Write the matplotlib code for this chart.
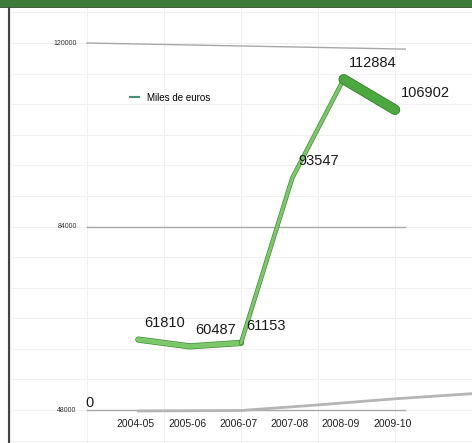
import matplotlib
matplotlib.use("Agg")
import matplotlib.pyplot as plt
import matplotlib.patheffects as pe
from matplotlib.lines import Line2D
from matplotlib.patches import Rectangle
import numpy as np

plt.rcParams["font.family"] = ["Liberation Sans", "DejaVu Sans"]

# data
seasons = ["2004-05", "2005-06", "2006-07", "2007-08", "2008-09", "2009-10"]
miles_euros = [61810, 60487, 61153, 93547, 112884, 106902]
y_ticks = [120000, 84000, 48000]
series_name = "Miles de euros"

W, H = 472, 443
fig = plt.figure(figsize=(W / 100, H / 100), dpi=100)
ax = fig.add_axes([10 / W, 0, 462 / W, 437 / H])
ax.set_xlim(-2.33, 6.42)
ax.set_ylim(41526, 127259)
for s in ax.spines.values():
    s.set_visible(False)
ax.tick_params(length=0, labelbottom=False, labelleft=False)

# faint background grid
ax.set_xticks(np.arange(-2.5, 7, 1.5))
ax.set_yticks(np.arange(42000, 128000, 6000))
ax.grid(True, color="#f0f0f0", lw=0.8)
ax.set_axisbelow(True)

# value axis lines + labels
for v in y_ticks:
    ax.plot([-1.0, 5.2], [v, v - 1200 if v == 120000 else v], color="#a8a8a8", lw=1.0, zorder=2)
    ax.text(-1.2, v, f"{v}", fontsize=5, color="#333333", ha="right", va="center")

# floor curve
ax.plot([0, 2.0, 3.5, 5.0, 6.5], [47800, 47900, 49000, 50200, 51200],
        color="#b5b5b5", lw=2.0, zorder=2)

# category labels
for i, lab in enumerate(seasons):
    ax.text(i - 0.05, 0.043, lab, fontsize=7.5, color="#222222", ha="center", va="center",
            transform=ax.get_xaxis_transform())

x = np.arange(len(seasons))
edge = [pe.Stroke(linewidth=4.5, foreground="#3f8f36"), pe.Normal()]
ax.plot(x[:3], miles_euros[:3], color="#7cc76a", lw=3.5, solid_capstyle="round",
        path_effects=edge, zorder=4)
ax.plot(x[2:5], miles_euros[2:5], color="#7cc76a", lw=2.2, solid_capstyle="round",
        path_effects=[pe.Stroke(linewidth=3.2, foreground="#3f8f36"), pe.Normal()], zorder=4)
ax.plot(x[4:], miles_euros[4:], color="#4aa83e", lw=6.5, solid_capstyle="round",
        path_effects=[pe.Stroke(linewidth=7.5, foreground="#2f7a28"), pe.Normal()], zorder=4)

for xi, v in zip(x, miles_euros):
    ax.annotate(f"{v}", (xi, v), xytext=(4, 12), textcoords="offset points",
                fontsize=10.5, color="#1a1a1a", ha="left", va="center",
                zorder=5)

ax.text(-0.95, 49400, "0", fontsize=10.5, color="#1a1a1a", ha="center", va="center")

handle = Line2D([0], [0], color="#4f8a78", lw=1.5)
ax.legend([handle], [series_name], loc="center left", bbox_to_anchor=(0.24, 0.79),
          frameon=False, fontsize=7, handlelength=1.0, handletextpad=0.8)

# frame decorations
fig.patches.append(Rectangle((0, 1 - 6 / H), 1, 6 / H, transform=fig.transFigure,
                             color="#3e7b3a", zorder=10))
fig.add_artist(Line2D([0, 1], [1 - 6.5 / H] * 2, transform=fig.transFigure,
                      color="#1f3a1d", lw=1.2))
fig.add_artist(Line2D([8.5 / W] * 2, [0, 1 - 6 / H], transform=fig.transFigure,
                      color="#444444", lw=1.5))

fig.savefig("out.png", dpi=100)
